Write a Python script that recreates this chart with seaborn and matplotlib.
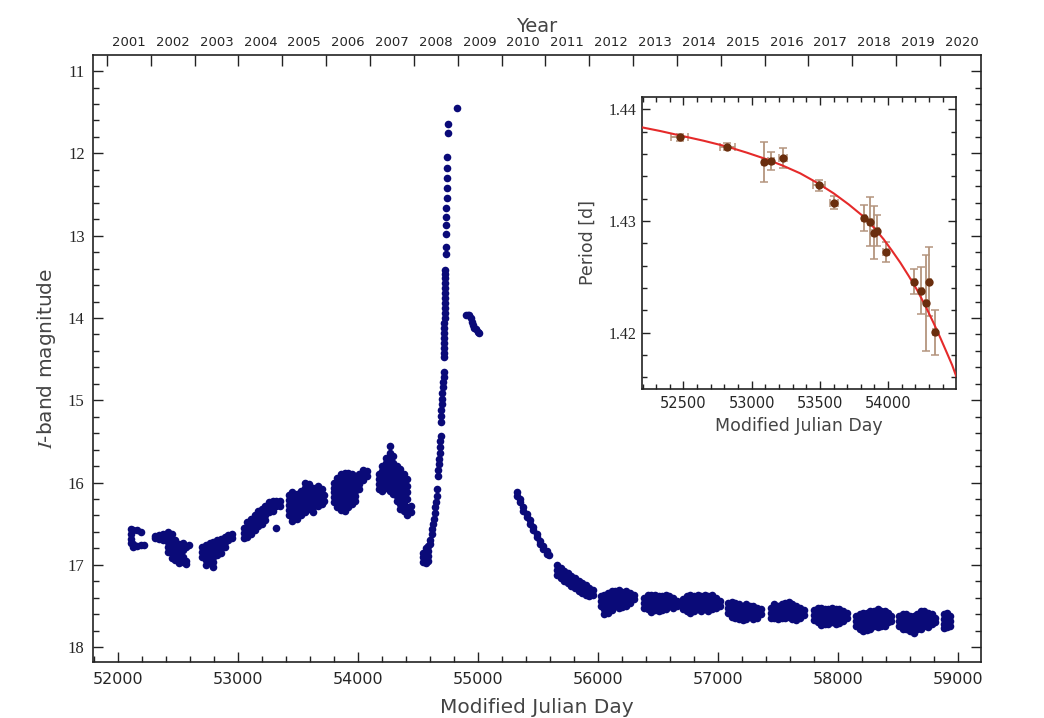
import numpy as np
import pandas as pd
import matplotlib
matplotlib.use("Agg")
import matplotlib.pyplot as plt
import seaborn as sns
from matplotlib.ticker import MultipleLocator, FixedLocator, NullFormatter, FixedFormatter

sns.set_theme(style="ticks")
plt.rcParams['font.family'] = ['DejaVu Sans']
plt.rcParams['mathtext.fontset'] = 'stix'

# ---------------- light curve data (MJD, [I mags]) ----------------
season_2001 = [(52110, [16.56, 16.62, 16.68, 16.74]), (52130, [16.58, 16.75, 16.78]),
               (52160, [16.58, 16.77]), (52190, [16.60, 16.76]), (52220, [16.76])]
season_2002 = [(52310, [16.65, 16.67]), (52340, [16.64, 16.68]), (52380, [16.62, 16.66, 16.70]),
               (52420, [16.60, 16.66, 16.72, 16.78, 16.84]), (52450, [16.62, 16.68, 16.74, 16.80, 16.86, 16.92]),
               (52480, [16.70, 16.76, 16.82, 16.88, 16.94]), (52510, [16.75, 16.80, 16.86, 16.92, 16.98]),
               (52540, [16.74, 16.82, 16.90, 16.97]), (52570, [16.78, 16.95, 16.99]), (52595, [16.76])]
season_2003 = [(52705, [16.78, 16.84, 16.90]), (52735, [16.76, 16.82, 16.88, 16.94, 17.00]),
               (52765, [16.74, 16.80, 16.86, 16.92, 16.98]), (52795, [16.72, 16.78, 16.84, 16.90, 16.96, 17.02]),
               (52830, [16.70, 16.76, 16.82, 16.88]), (52860, [16.68, 16.74, 16.80, 16.86]),
               (52890, [16.66, 16.72, 16.78]), (52920, [16.64, 16.70]), (52950, [16.63, 16.67])]
season_2004 = [(53050, [16.55, 16.61, 16.67]), (53080, [16.48, 16.54, 16.60, 16.66]),
               (53110, [16.44, 16.50, 16.56, 16.62]), (53140, [16.40, 16.46, 16.52, 16.58]),
               (53170, [16.35, 16.41, 16.47, 16.53]), (53200, [16.32, 16.38, 16.44, 16.50]),
               (53230, [16.28, 16.34, 16.40, 16.46]), (53260, [16.24, 16.30, 16.36]),
               (53290, [16.22, 16.28, 16.34]), (53320, [16.22, 16.28, 16.55]), (53350, [16.22, 16.28])]
season_2005 = [(53425, [16.15, 16.21, 16.27, 16.33, 16.39]), (53455, [16.12, 16.18, 16.24, 16.30, 16.36, 16.42, 16.47]),
               (53490, [16.14, 16.20, 16.26, 16.32, 16.38, 16.44]), (53525, [16.10, 16.16, 16.22, 16.28, 16.34, 16.40]),
               (53560, [16.00, 16.06, 16.12, 16.18, 16.24, 16.30, 16.36]), (53595, [16.02, 16.08, 16.14, 16.20, 16.26, 16.32]),
               (53630, [16.06, 16.12, 16.18, 16.24, 16.30, 16.36]), (53665, [16.04, 16.10, 16.16, 16.22, 16.28]),
               (53700, [16.08, 16.14, 16.20, 16.26]), (53720, [16.15, 16.22])]
season_2006 = [(53800, [16.00, 16.06, 16.12, 16.18, 16.24]), (53830, [15.94, 16.00, 16.06, 16.12, 16.18, 16.24, 16.30]),
               (53860, [15.90, 15.96, 16.02, 16.08, 16.14, 16.20, 16.26, 16.33]),
               (53890, [15.88, 15.94, 16.00, 16.06, 16.12, 16.18, 16.24, 16.30, 16.35]),
               (53920, [15.88, 15.94, 16.00, 16.06, 16.12, 16.18, 16.24, 16.30]),
               (53950, [15.90, 15.96, 16.02, 16.08, 16.14, 16.20, 16.26]),
               (53980, [15.92, 15.98, 16.04, 16.10, 16.16, 16.22]), (54010, [15.90, 15.96, 16.02, 16.08]),
               (54045, [15.85, 15.91, 15.97]), (54080, [15.86, 15.92])]
season_2007 = [(54175, [15.90, 15.96, 16.02, 16.08]), (54205, [15.80, 15.86, 15.92, 15.98, 16.04, 16.10]),
               (54235, [15.70, 15.76, 15.82, 15.88, 15.94, 16.00, 16.06]),
               (54265, [15.56, 15.64, 15.72, 15.80, 15.88, 15.96, 16.04, 16.10]),
               (54295, [15.68, 15.76, 15.84, 15.92, 16.00, 16.08, 16.14]),
               (54325, [15.80, 15.86, 15.92, 15.98, 16.04, 16.10, 16.16, 16.22]),
               (54355, [15.84, 15.90, 15.96, 16.02, 16.08, 16.14, 16.20, 16.26, 16.32]),
               (54385, [15.90, 15.96, 16.02, 16.08, 16.14, 16.20, 16.26, 16.34]),
               (54410, [15.96, 16.04, 16.12, 16.20, 16.30, 16.40]), (54440, [16.28, 16.36])]
season_2008 = [(54545, [16.85, 16.91, 16.97]), (54565, [16.80, 16.86, 16.92, 16.98]),
               (54585, [16.77, 16.83, 16.89, 16.95]), (54605, [16.70, 16.75]),
               (54615, [16.62]), (54622, [16.56]), (54628, [16.50]), (54634, [16.44]), (54640, [16.37]),
               (54646, [16.30]), (54652, [16.23]), (54657, [16.16]), (54661, [16.08]),
               (54667, [15.92]), (54671, [15.85]), (54675, [15.78]), (54678, [15.71]), (54681, [15.64]),
               (54684, [15.57]), (54687, [15.50]), (54689, [15.44]),
               (54690, [15.26]), (54693, [15.19]), (54696, [15.12]), (54699, [15.05]), (54702, [14.98]),
               (54705, [14.91]), (54708, [14.84]), (54711, [14.78]), (54714, [14.72]), (54717, [14.66]),
               (54718, [14.48, 14.42]), (54720, [14.36, 14.30, 14.24]), (54722, [14.18, 14.12, 14.06]),
               (54724, [14.00, 13.94, 13.88]), (54726, [13.82, 13.76, 13.70]), (54728, [13.64, 13.58, 13.52, 13.46, 13.42]),
               (54736, [13.22, 13.14]), (54738, [12.98, 12.87, 12.77, 12.67]), (54740, [12.54, 12.42, 12.30, 12.18]),
               (54742, [12.05]), (54748, [11.75, 11.64]), (54828, [11.45])]
season_2009 = [(54905, [13.96]), (54915, [13.96]), (54928, [13.97]), (54940, [14.00]), (54950, [14.05]),
               (54960, [14.08]), (54972, [14.12]), (54985, [14.14]), (55000, [14.17]), (55010, [14.18])]
season_2010 = [(55322, [16.12, 16.16]), (55350, [16.20, 16.24]), (55378, [16.30, 16.34]), (55406, [16.38, 16.42]),
               (55433, [16.46, 16.50]), (55461, [16.54, 16.58]), (55489, [16.62, 16.66]), (55517, [16.71, 16.75]),
               (55544, [16.77, 16.81]), (55572, [16.83, 16.87]), (55594, [16.88])]
season_2011 = [(55660, [17.00, 17.06, 17.12]), (55690, [17.04, 17.10, 17.16]), (55720, [17.08, 17.14, 17.20]),
               (55750, [17.10, 17.16, 17.22]), (55780, [17.14, 17.20, 17.26]), (55810, [17.16, 17.22, 17.28]),
               (55840, [17.20, 17.26, 17.32]), (55870, [17.22, 17.28, 17.34]), (55900, [17.24, 17.30, 17.36]),
               (55930, [17.28, 17.34, 17.38]), (55960, [17.30, 17.36])]
season_2012 = [(56025, [17.38, 17.44, 17.50]), (56055, [17.36, 17.42, 17.48, 17.54, 17.60]),
               (56085, [17.34, 17.40, 17.46, 17.52, 17.58]), (56115, [17.32, 17.38, 17.44, 17.50, 17.55]),
               (56145, [17.32, 17.38, 17.44, 17.50]), (56175, [17.30, 17.36, 17.42, 17.48, 17.53]),
               (56205, [17.33, 17.39, 17.45, 17.51]), (56235, [17.32, 17.38, 17.44, 17.50]),
               (56265, [17.34, 17.40, 17.46]), (56300, [17.36, 17.42])]
season_2013 = [(56385, [17.40, 17.46, 17.52]), (56415, [17.36, 17.42, 17.48, 17.54]),
               (56445, [17.36, 17.42, 17.48, 17.54, 17.57]), (56475, [17.36, 17.42, 17.48, 17.55]),
               (56505, [17.38, 17.44, 17.50, 17.56]), (56535, [17.38, 17.44, 17.50, 17.55]),
               (56565, [17.36, 17.42, 17.48, 17.54]), (56595, [17.38, 17.44, 17.50]),
               (56625, [17.40, 17.46, 17.52]), (56655, [17.44, 17.50])]
season_2014 = [(56710, [17.42, 17.48, 17.54]), (56740, [17.38, 17.44, 17.50, 17.56]),
               (56770, [17.36, 17.42, 17.48, 17.54, 17.58]), (56800, [17.38, 17.44, 17.50, 17.56]),
               (56830, [17.36, 17.42, 17.48, 17.54]), (56860, [17.38, 17.44, 17.50, 17.56]),
               (56890, [17.36, 17.42, 17.48, 17.54]), (56920, [17.38, 17.44, 17.50, 17.56]),
               (56950, [17.36, 17.42, 17.48, 17.54]), (56985, [17.40, 17.46, 17.52]), (57015, [17.44, 17.50])]
season_2015 = [(57085, [17.46, 17.52, 17.58]), (57115, [17.45, 17.51, 17.57, 17.63]),
               (57145, [17.46, 17.52, 17.58, 17.64]), (57175, [17.48, 17.54, 17.60, 17.66]),
               (57205, [17.50, 17.56, 17.62, 17.67]), (57235, [17.48, 17.54, 17.60, 17.66]),
               (57265, [17.50, 17.56, 17.62]), (57295, [17.50, 17.56, 17.62, 17.66]),
               (57325, [17.52, 17.58, 17.64]), (57360, [17.54, 17.60])]
season_2016 = [(57440, [17.52, 17.58, 17.64]), (57470, [17.48, 17.54, 17.60, 17.65]),
               (57500, [17.50, 17.56, 17.62, 17.66]), (57530, [17.48, 17.54, 17.60, 17.64]),
               (57560, [17.46, 17.52, 17.58, 17.64]), (57590, [17.45, 17.51, 17.57, 17.63]),
               (57620, [17.48, 17.54, 17.60, 17.66]), (57650, [17.50, 17.56, 17.62, 17.67]),
               (57680, [17.52, 17.58, 17.64]), (57715, [17.55, 17.61])]
season_2017 = [(57800, [17.55, 17.61, 17.67]), (57830, [17.52, 17.58, 17.64, 17.70]),
               (57860, [17.52, 17.58, 17.64, 17.70, 17.73]), (57890, [17.54, 17.60, 17.66, 17.72]),
               (57920, [17.54, 17.60, 17.66, 17.72]), (57950, [17.52, 17.58, 17.64, 17.70]),
               (57980, [17.54, 17.60, 17.66, 17.72]), (58010, [17.54, 17.60, 17.66, 17.71]),
               (58040, [17.56, 17.62, 17.68]), (58075, [17.58, 17.64])]
season_2018 = [(58150, [17.62, 17.68, 17.74]), (58180, [17.60, 17.66, 17.72, 17.78]),
               (58210, [17.58, 17.64, 17.70, 17.76, 17.80]), (58240, [17.58, 17.64, 17.70, 17.76, 17.79]),
               (58270, [17.56, 17.62, 17.68, 17.74, 17.78]), (58300, [17.56, 17.62, 17.68, 17.74]),
               (58330, [17.54, 17.60, 17.66, 17.72, 17.76]), (58360, [17.56, 17.62, 17.68, 17.74]),
               (58390, [17.56, 17.62, 17.68, 17.74]), (58420, [17.58, 17.64, 17.70]), (58445, [17.62, 17.68])]
season_2019 = [(58510, [17.62, 17.68, 17.74]), (58540, [17.60, 17.66, 17.72, 17.78]),
               (58570, [17.60, 17.66, 17.72, 17.78]), (58600, [17.62, 17.68, 17.74, 17.80]),
               (58630, [17.62, 17.68, 17.74, 17.80, 17.83]), (58660, [17.60, 17.66, 17.72, 17.78]),
               (58690, [17.56, 17.62, 17.68, 17.74, 17.78]), (58720, [17.56, 17.62, 17.68, 17.74]),
               (58750, [17.58, 17.64, 17.70, 17.76]), (58780, [17.60, 17.66, 17.72]), (58805, [17.64, 17.70])]
season_2020 = [(58880, [17.60, 17.66, 17.72, 17.77]), (58905, [17.58, 17.64, 17.70, 17.76]),
               (58930, [17.62, 17.68, 17.74])]

seasons = [season_2001, season_2002, season_2003, season_2004, season_2005, season_2006, season_2007,
           season_2008, season_2009, season_2010, season_2011, season_2012, season_2013, season_2014,
           season_2015, season_2016, season_2017, season_2018, season_2019, season_2020]

# ---------------- inset: period measurements ----------------
per_mjd  = [52471, 52820, 53092, 53141, 53227, 53491, 53601, 53821, 53870, 53895, 53922, 53985,
            54188, 54242, 54281, 54303, 54347]
per_val  = [1.43749, 1.43666, 1.43531, 1.43540, 1.43564, 1.43320, 1.43164, 1.43030, 1.42994,
            1.42896, 1.42913, 1.42725, 1.42457, 1.42376, 1.42269, 1.42457, 1.42003]
per_yerr = [0.0003, 0.0003, 0.0018, 0.0008, 0.0009, 0.0005, 0.0006, 0.00115, 0.0022,
            0.0024, 0.0014, 0.0009, 0.0011, 0.0021, 0.0043, 0.0031, 0.0020]
per_xerr = [60, 55, 15, 20, 30, 45, 30, 15, 15, 15, 15, 20, 15, 15, 10, 10, 15]

# fitted curve
fit_mjd = [52194, 52329, 52471, 52647, 52821, 52965, 53112, 53234, 53356, 53479, 53601, 53711,
           53821, 53895, 53968, 54029, 54090, 54152, 54213, 54274, 54335, 54384, 54433, 54470, 54501]
fit_per = [1.43839, 1.43806, 1.43767, 1.43719, 1.43666, 1.43612, 1.43552, 1.43493, 1.43427, 1.43343,
           1.43248, 1.43149, 1.43039, 1.42943, 1.42836, 1.42734, 1.42627, 1.42507, 1.42382, 1.42239,
           1.42084, 1.41952, 1.41815, 1.41710, 1.41606]

years = list(range(2001, 2021))

# ---------------- build tables ----------------
rows = []
for s in seasons:
    for m, mags in s:
        for g in mags:
            rows.append((m, g))
lc = pd.DataFrame(rows, columns=["mjd", "mag"])
per = pd.DataFrame({"mjd": per_mjd, "P": per_val, "ey": per_yerr, "ex": per_xerr})
fit = pd.DataFrame({"mjd": fit_mjd, "P": fit_per})

NAVY = "#0a0a78"
EPOCH = pd.Timestamp("1858-11-17")

fig = plt.figure(figsize=(10.44, 7.18), dpi=100)
ax = fig.add_axes([0.0891, 0.078, 0.8506, 0.8454])
sns.scatterplot(data=lc, x="mjd", y="mag", ax=ax, color=NAVY, s=30, linewidth=0, legend=False, zorder=3)
ax.set_xlim(51794, 59192)
ax.set_ylim(18.18, 10.805)
ax.xaxis.set_major_locator(MultipleLocator(1000))
ax.xaxis.set_minor_locator(MultipleLocator(200))
ax.yaxis.set_major_locator(MultipleLocator(1))
ax.yaxis.set_minor_locator(MultipleLocator(0.2))
ax.tick_params(which="both", direction="in", top=False, bottom=True, left=True, right=True,
               width=1.0, color="#222222")
ax.tick_params(which="major", length=7)
ax.tick_params(which="minor", length=4)
ax.tick_params(axis="x", which="major", labelsize=11.5, pad=7)
ax.tick_params(axis="y", which="major", labelsize=12, pad=6)
for lab in ax.get_yticklabels():
    lab.set_fontfamily("Liberation Serif")
ax.set_xlabel("Modified Julian Day", fontsize=14.5, color="#444444", labelpad=8)
ax.set_ylabel(r"$I$-band magnitude", fontsize=14.5, color="#444444", labelpad=7)
for sp in ax.spines.values():
    sp.set_linewidth(1.2)
    sp.set_color("#222222")

# top year axis
tx = ax.twiny()
tx.set_xlim(ax.get_xlim())
starts = [(pd.Timestamp(f"{y}-01-01") - EPOCH).days for y in years]
mids = [(pd.Timestamp(f"{y}-07-02") - EPOCH).days for y in years]
tx.xaxis.set_major_locator(FixedLocator(starts))
tx.xaxis.set_major_formatter(NullFormatter())
tx.xaxis.set_minor_locator(FixedLocator(mids))
tx.xaxis.set_minor_formatter(FixedFormatter([str(y) for y in years]))
tx.tick_params(which="major", direction="in", length=8, width=1.0, color="#222222")
tx.tick_params(which="minor", length=0, labelsize=9.5, pad=4)
tx.set_xlabel("Year", fontsize=14, color="#444444", labelpad=3)
for sp in tx.spines.values():
    sp.set_visible(False)

# ---------------- inset ----------------
ai = fig.add_axes([0.6147, 0.4582, 0.3006, 0.4071])
ai.errorbar(per["mjd"], per["P"], yerr=per["ey"], xerr=per["ex"], fmt="none",
            ecolor="#b4957e", elinewidth=1.3, capsize=3, capthick=1.1, zorder=2)
sns.lineplot(data=fit, x="mjd", y="P", ax=ai, color="#e52a2a", linewidth=1.5,
             sort=False, estimator=None, zorder=3)
sns.scatterplot(data=per, x="mjd", y="P", ax=ai, color="#6a2e0e", s=36, linewidth=0,
                legend=False, zorder=4)
ai.set_xlim(52194, 54495)
ai.set_ylim(1.41496, 1.44113)
ai.xaxis.set_minor_locator(MultipleLocator(100))
ai.yaxis.set_minor_locator(MultipleLocator(0.002))
ai.set_xticks([52500, 53000, 53500, 54000])
ai.set_xticklabels(["52500", "53000", "53500", "54000"])
ai.set_yticks([1.42, 1.43, 1.44])
ai.set_yticklabels(["1.42", "1.43", "1.44"], fontfamily="Liberation Serif")
ai.tick_params(which="both", direction="in", top=True, bottom=True, left=True, right=True,
               width=1.0, color="#222222")
ai.tick_params(which="major", length=6)
ai.tick_params(which="minor", length=3.5)
ai.tick_params(axis="x", labelsize=10.5, pad=5)
ai.tick_params(axis="y", labelsize=11.5, pad=4)
ai.set_xlabel("Modified Julian Day", fontsize=12.5, color="#444444", labelpad=4)
ai.set_ylabel("Period [d]", fontsize=12.5, color="#444444", labelpad=8)
for sp in ai.spines.values():
    sp.set_linewidth(1.2)
    sp.set_color("#222222")

fig.savefig("out.png", dpi=100)
